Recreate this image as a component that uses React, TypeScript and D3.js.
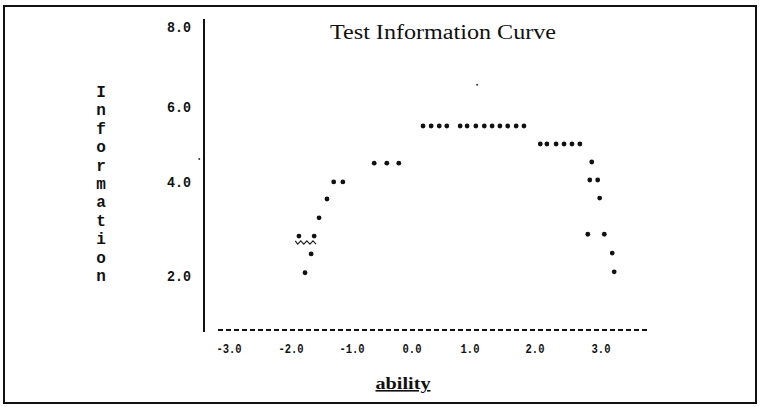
import React from "react";
import * as d3 from "d3";

// ---- data ----
const title = "Test Information Curve";
const xLabel = "ability";
const yLabel = "Information";
const xTicks = [-3, -2, -1, 0, 1, 2, 3];
const yTicks = [2, 4, 6, 8];

// information values at ability points
const abilityValues = [
  -1.77, -1.67, -1.87, -1.62, -1.54, -1.41, -1.30, -1.15,
  -0.63, -0.42, -0.22,
  0.19, 0.33, 0.47, 0.60,
  0.83, 0.95, 1.09, 1.22, 1.34, 1.46, 1.58, 1.71, 1.83,
  2.08, 2.18, 2.32, 2.44, 2.56, 2.68,
  2.86, 2.83, 2.95, 2.98, 2.80, 3.05, 3.17, 3.20,
];
const informationValues = [
  2.09, 2.49, 2.87, 2.87, 3.26, 3.66, 4.03, 4.03,
  4.53, 4.53, 4.53,
  5.52, 5.52, 5.52, 5.52,
  5.52, 5.52, 5.52, 5.52, 5.52, 5.52, 5.52, 5.52, 5.52,
  5.04, 5.04, 5.04, 5.04, 5.04, 5.04,
  4.56, 4.08, 4.08, 3.68, 2.91, 2.91, 2.51, 2.11,
];
// faint specks in the printout
const speckAbility = [1.11, -3.48];
const speckInformation = [6.58, 4.64];
// small wavy mark near ability -1.8
const waveAbility = [-1.93, -1.89, -1.84, -1.79, -1.74, -1.69, -1.64, -1.59];
const waveInformation = [2.77, 2.70, 2.77, 2.70, 2.77, 2.70, 2.77, 2.70];

const W = 761;
const H = 408;

export default function App() {
  // character-plot axes are slightly uneven, so use piecewise-linear scales
  const x = d3.scaleLinear().domain(xTicks).range([229, 291, 352, 412, 470, 535, 601]);
  const y = d3.scaleLinear().domain(yTicks).range([277, 183, 108, 28]);

  const axisX = 204;
  const plotTop = 19;
  const plotBottom = 332;
  const baseY = 330;
  const baseX0 = 218;
  const baseX1 = 650;

  const wave = d3
    .line<number>()
    .x((_, i) => x(waveAbility[i]))
    .y((_, i) => y(waveInformation[i]))(waveInformation);

  const mono = "'Liberation Mono', 'DejaVu Sans Mono', monospace";
  const serif = "'Liberation Serif', 'DejaVu Serif', serif";

  const letters = yLabel.split("");
  const letterY = d3.scaleLinear().domain([0, letters.length - 1]).range([93, 277]);

  return (
    <svg
      width={W}
      height={H}
      style={{ position: "absolute", left: 0, top: 0, background: "#fff" }}
    >
      <rect x={0} y={0} width={W} height={H} fill="#fff" />
      {/* frame */}
      <rect x={4} y={6} width={752} height={397} fill="none" stroke="#111" strokeWidth={2} />

      {/* title */}
      <text
        x={443}
        y={39}
        textAnchor="middle"
        fontFamily={serif}
        fontSize={20}
        textLength={226}
        lengthAdjust="spacingAndGlyphs"
        fill="#111"
      >
        {title}
      </text>

      {/* y axis line */}
      <line x1={axisX} x2={axisX} y1={plotTop} y2={plotBottom} stroke="#111" strokeWidth={2} />

      {/* y tick labels */}
      {yTicks.map((t) => (
        <text
          key={t}
          x={191}
          y={y(t)}
          textAnchor="end"
          dominantBaseline="central"
          fontFamily={mono}
          fontWeight="bold"
          fontSize={15}
          textLength={24}
          lengthAdjust="spacingAndGlyphs"
          fill="#111"
        >
          {t.toFixed(1)}
        </text>
      ))}

      {/* y label stacked */}
      {letters.map((c, i) => (
        <text
          key={i}
          x={101}
          y={letterY(i)}
          textAnchor="middle"
          dominantBaseline="central"
          fontFamily={mono}
          fontWeight="bold"
          fontSize={16}
          fill="#111"
        >
          {c}
        </text>
      ))}

      {/* dashed x axis */}
      <line
        x1={baseX0}
        x2={baseX1}
        y1={baseY}
        y2={baseY}
        stroke="#111"
        strokeWidth={2}
        strokeDasharray="5,3"
      />

      {/* x tick labels */}
      {xTicks.map((t) => {
        const s = t.toFixed(1);
        return (
          <text
            key={t}
            x={x(t)}
            y={349}
            textAnchor="middle"
            dominantBaseline="central"
            fontFamily={mono}
            fontWeight="bold"
            fontSize={13}
            textLength={s.length * 6.3}
            lengthAdjust="spacingAndGlyphs"
            fill="#111"
          >
            {s}
          </text>
        );
      })}

      {/* x label */}
      <text
        x={403}
        y={389}
        textAnchor="middle"
        fontFamily={serif}
        fontWeight="bold"
        fontSize={16}
        textLength={55}
        lengthAdjust="spacingAndGlyphs"
        textDecoration="underline"
        fill="#111"
      >
        {xLabel}
      </text>

      {/* wave mark */}
      <path d={wave ?? ""} fill="none" stroke="#222" strokeWidth={1.2} />

      {/* specks */}
      {speckAbility.map((a, i) => (
        <circle key={"s" + i} cx={x(a)} cy={y(speckInformation[i])} r={1} fill="#333" />
      ))}

      {/* points */}
      {abilityValues.map((a, i) => (
        <circle key={i} cx={x(a)} cy={y(informationValues[i])} r={2.4} fill="#111" />
      ))}
    </svg>
  );
}
